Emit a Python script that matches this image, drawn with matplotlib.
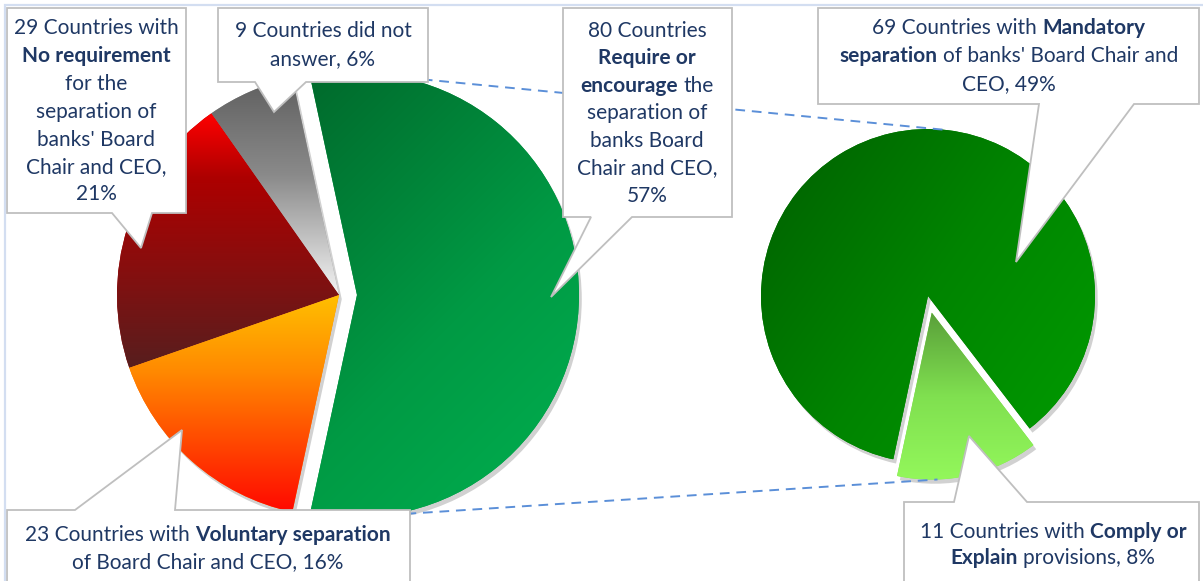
"""
Pie-of-pie: separation of banks' Board Chair and CEO
"""
import numpy as np
import matplotlib
matplotlib.use('Agg')
import matplotlib.pyplot as plt
import matplotlib.patheffects as pe
from matplotlib.patches import Polygon, Rectangle
from matplotlib.colors import to_rgb

# ---- data ----
main_names = ['Require or encourage', 'Did not answer', 'No requirement', 'Voluntary separation']
main_counts = [80, 9, 29, 23]
main_pcts = [57, 6, 21, 16]
sub_names = ['Comply or Explain', 'Mandatory separation']
sub_counts = [11, 69]
sub_pcts = [8, 49]

W, H = 1203, 581
TXT = '#1f3864'
FONT = 'Lato'
FS = 15.0


def py(y):
    # pixel row (top-down) -> data y (bottom-up)
    return H - y


def gradient_fill(ax, patch, stops, angle, z):
    """Clip a linear gradient image to a patch. stops = [(t, color), ...]"""
    bb = patch.get_path().get_extents()
    x0, y0, x1, y1 = bb.x0, bb.y0, bb.x1, bb.y1
    n = 200
    X, Y = np.meshgrid(np.linspace(x0, x1, n), np.linspace(y0, y1, n))
    a = np.radians(angle)
    proj = X * np.cos(a) + Y * np.sin(a)
    t = (proj - proj.min()) / (proj.max() - proj.min())
    pos = [s[0] for s in stops]
    cols = np.array([to_rgb(s[1]) for s in stops])
    img = np.dstack([np.interp(t, pos, cols[:, k]) for k in range(3)])
    im = ax.imshow(img, extent=(x0, x1, y0, y1), origin='lower',
                   interpolation='bilinear', aspect='auto', zorder=z)
    im.set_clip_path(patch)


def callout(ax, box, base, tip, side='bottom'):
    x0, y0, x1, y1 = box  # pixel coords, top-down
    b0, b1 = base
    if side == 'bottom':
        pts = [(x0, y0), (x1, y0), (x1, y1), (b1, y1), tip, (b0, y1), (x0, y1)]
    else:
        pts = [(x0, y0), (b0, y0), tip, (b1, y0), (x1, y0), (x1, y1), (x0, y1)]
    pts = [(x, py(y)) for x, y in pts]
    ax.add_patch(Polygon(pts, closed=True, facecolor='white', edgecolor='#bfbfbf',
                         linewidth=1.3, zorder=4))


def rich_text(ax, cx, ys, lines):
    r = ax.figure.canvas.get_renderer()
    probe = ax.text(0, 0, 'a a', fontsize=FS, family=FONT)
    probe2 = ax.text(0, 0, 'aa', fontsize=FS, family=FONT)
    space = probe.get_window_extent(r).width - probe2.get_window_extent(r).width
    probe.remove()
    probe2.remove()
    for y, segs in zip(ys, lines):
        texts, widths = [], []
        for s, bold in segs:
            t = ax.text(0, py(y), s, fontsize=FS, family=FONT, color=TXT,
                        fontweight='bold' if bold else 'normal',
                        ha='left', va='center', zorder=6)
            texts.append(t)
            widths.append(t.get_window_extent(r).width)
        total = sum(widths) + space * (len(segs) - 1)
        x = cx - total / 2
        for t, w in zip(texts, widths):
            t.set_x(x)
            x += w + space


fig = plt.figure(figsize=(W / 100, H / 100), dpi=100)
ax = fig.add_axes([0, 0, 1, 1])
ax.axis('off')

shadow = [pe.SimplePatchShadow(offset=(2, -3), shadow_rgbFace='k', alpha=0.18), pe.Normal()]

# ---- left pie ----
c1 = (339, py(295))
r1 = 222
ex1 = 18
start1 = -0.5 * main_counts[0] / sum(main_counts) * 360
wedges1, _ = ax.pie(main_counts, center=c1, radius=r1, startangle=start1,
                    explode=[ex1, 0, 0, 0], counterclock=True,
                    colors=['#009a44', '#999999', '#a00000', '#ff8000'],
                    wedgeprops=dict(linewidth=0, zorder=1), frame=False)
grads1 = [
    ([(0, '#006a2c'), (0.55, '#009a44'), (1, '#00b050')], -45),
    ([(0, '#5f5f5f'), (0.45, '#8a8a8a'), (1, '#f4f4f4')], -90),
    ([(0, '#ff0000'), (0.25, '#ad0000'), (0.6, '#880e0e'), (1, '#571e1e')], -90),
    ([(0, '#ffc000'), (0.35, '#ff8a00'), (1, '#ff0800')], -90),
]
for i, (w, (st, ang)) in enumerate(zip(wedges1, grads1)):
    w.set_path_effects(shadow)
    gradient_fill(ax, w, st, ang, 1.5 + i * 0.01)

# ---- right pie ----
c2 = (928, py(296))
r2 = 167
ex2 = 17
wedges2, _ = ax.pie(sub_counts, center=c2, radius=r2, startangle=-102,
                    explode=[ex2, 0], counterclock=True,
                    colors=['#80e050', '#008000'],
                    wedgeprops=dict(linewidth=0, zorder=1), frame=False)
grads2 = [
    ([(0, '#5aa03a'), (0.5, '#80e050'), (1, '#93f75b')], -90),
    ([(0, '#005f00'), (0.5, '#008400'), (1, '#009c00')], -35),
]
for i, (w, (st, ang)) in enumerate(zip(wedges2, grads2)):
    w.set_path_effects(shadow)
    gradient_fill(ax, w, st, ang, 1.6 + i * 0.01)

# ---- connector lines between the pies ----
gx = c1[0] + ex1
a_top, a_bot = np.radians(85), np.radians(-88)
ax.plot([gx, c2[0] + r2 * np.cos(a_top)], [c1[1] + r1, c2[1] + r2 * np.sin(a_top)],
        ls=(0, (5, 3.5)), color='#5b8fd8', lw=1.4, zorder=3)
lx = c2[0] + ex2 * np.cos(np.radians(-77.5))
ly = c2[1] + ex2 * np.sin(np.radians(-77.5))
ax.plot([gx, lx + r2 * np.cos(a_bot)], [c1[1] - r1, ly + r2 * np.sin(a_bot)],
        ls=(0, (5, 3.5)), color='#5b8fd8', lw=1.4, zorder=3)

# ---- callouts ----
callout(ax, (7, 8, 186, 213), (112, 152), (141, 248))
callout(ax, (218, 8, 428, 82), (255, 306), (274, 112))
callout(ax, (563, 8, 732, 217), (591, 632), (551, 297))
callout(ax, (818, 8, 1199, 104), (1039, 1134), (1016, 262))
callout(ax, (7, 510, 410, 600), (75, 175), (182, 430), side='top')
callout(ax, (904, 502, 1199, 600), (954, 1027), (969, 436), side='top')

rich_text(ax, 96, [28, 56, 84, 112, 140, 167, 194], [
    [(f'{main_counts[2]} Countries with', False)],
    [('No requirement', True)],
    [('for the', False)],
    [('separation of', False)],
    [("banks' Board", False)],
    [('Chair and CEO,', False)],
    [(f'{main_pcts[2]}%', False)],
])
rich_text(ax, 323, [31, 59], [
    [(f'{main_counts[1]} Countries did not', False)],
    [(f'answer, {main_pcts[1]}%', False)],
])
rich_text(ax, 647, [31, 58, 86, 113, 141, 168, 196], [
    [(f'{main_counts[0]} Countries', False)],
    [('Require or', True)],
    [('encourage', True), ('the', False)],
    [('separation of', False)],
    [('banks Board', False)],
    [('Chair and CEO,', False)],
    [(f'{main_pcts[0]}%', False)],
])
rich_text(ax, 1009, [28, 56, 84], [
    [(f'{sub_counts[1]} Countries with', False), ('Mandatory', True)],
    [('separation', True), ("of banks' Board Chair and", False)],
    [(f'CEO, {sub_pcts[1]}%', False)],
])
rich_text(ax, 208, [535, 562], [
    [(f'{main_counts[3]} Countries with', False), ('Voluntary separation', True)],
    [(f'of Board Chair and CEO, {main_pcts[3]}%', False)],
])
rich_text(ax, 1053, [532, 558], [
    [(f'{sub_counts[0]} Countries with', False), ('Comply or', True)],
    [('Explain', True), (f'provisions, {sub_pcts[0]}%', False)],
])

# chart area border (top and left visible)
ax.add_patch(Rectangle((5, -20), W + 40, py(5) + 20, facecolor='none',
                       edgecolor='#d3def1', linewidth=1.6, zorder=7))

ax.set_xlim(0, W)
ax.set_ylim(0, H)
ax.set_aspect('auto')
fig.savefig('out.png', dpi=100, facecolor='white')
